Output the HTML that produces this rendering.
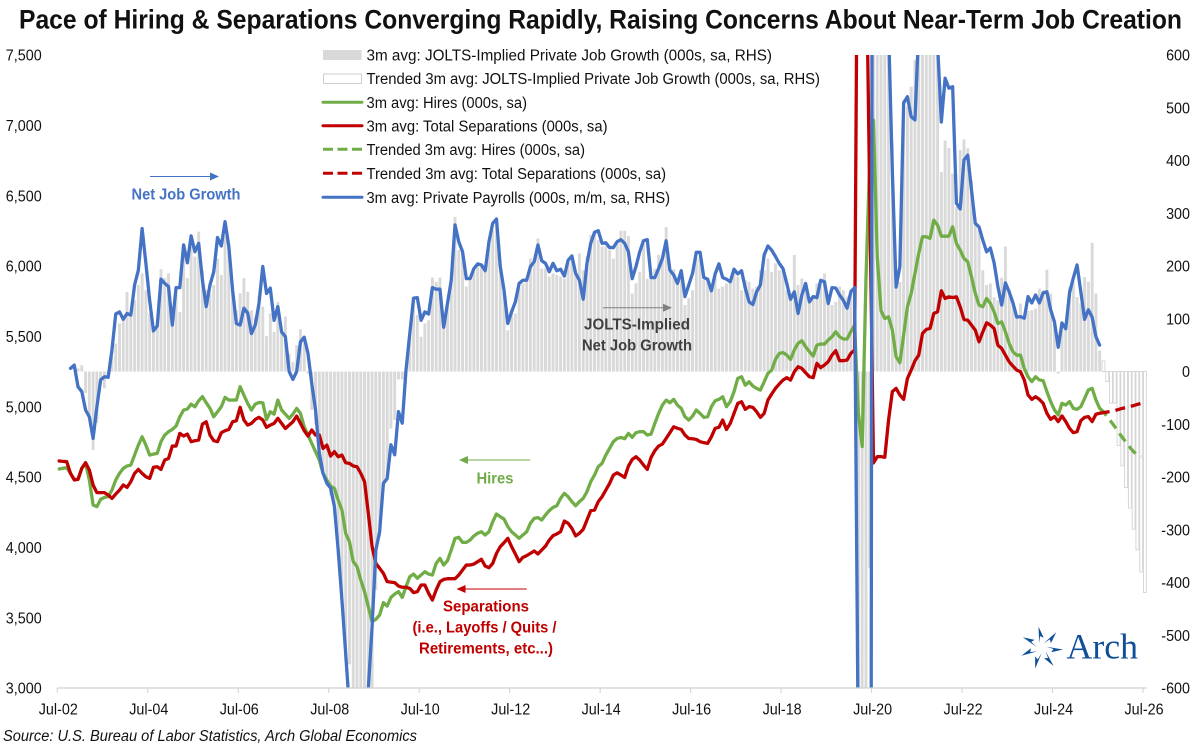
<!DOCTYPE html>
<html lang="en">
<head>
<meta charset="utf-8">
<title>Pace of Hiring and Separations</title>
<style>
html,body{margin:0;padding:0;background:#fff;width:1200px;height:749px;overflow:hidden}
svg{display:block;font-family:"Liberation Sans",Arial,sans-serif}
text{fill:#111}
</style>
</head>
<body>
<svg id="chart" xmlns="http://www.w3.org/2000/svg" width="1200" height="749" viewBox="0 0 1200 749">
<defs><clipPath id="plot-clip"><rect x="50" y="55" width="1100" height="633"/></clipPath></defs>
<rect width="1200" height="749" fill="#fff"/>
<text x="19" y="28.5" font-size="27" font-weight="bold" textLength="1163" lengthAdjust="spacingAndGlyphs" fill="#000">Pace of Hiring &amp; Separations Converging Rapidly, Raising Concerns About Near-Term Job Creation</text>

<g id="bars" clip-path="url(#plot-clip)"></g>
<g id="lines" clip-path="url(#plot-clip)"></g>

<line x1="57.3" y1="688" x2="1146.8" y2="688" stroke="#d2d2d2" stroke-width="1.2"/>
<g id="x-axis"></g>
<g id="y-left"></g>
<g id="y-right"></g>

<g font-size="15.5">
 <g>
  <rect x="323" y="50" width="38.5" height="10" fill="#d9d9d9"/>
  <text x="366.5" y="60.5" textLength="405.5" lengthAdjust="spacingAndGlyphs">3m avg: JOLTS-Implied Private Job Growth (000s, sa, RHS)</text>
 </g>
 <g>
  <rect x="323.5" y="74" width="38" height="9.5" fill="#fff" stroke="#cfcfcf" stroke-width="1"/>
  <text x="366.5" y="84" textLength="453.5" lengthAdjust="spacingAndGlyphs">Trended 3m avg: JOLTS-Implied Private Job Growth (000s, sa, RHS)</text>
 </g>
 <g>
  <line x1="323" y1="102.3" x2="362" y2="102.3" stroke="#70ad47" stroke-width="3" stroke-linecap="round"/>
  <text x="366.5" y="107.8" textLength="160.5" lengthAdjust="spacingAndGlyphs">3m avg: Hires (000s, sa)</text>
 </g>
 <g>
  <line x1="323" y1="125.7" x2="362" y2="125.7" stroke="#c00000" stroke-width="3" stroke-linecap="round"/>
  <text x="366.5" y="131.3" textLength="241" lengthAdjust="spacingAndGlyphs">3m avg: Total Separations (000s, sa)</text>
 </g>
 <g>
  <line x1="323" y1="149.3" x2="362" y2="149.3" stroke="#70ad47" stroke-width="3" stroke-dasharray="10 4.5"/>
  <text x="366.5" y="155" textLength="218.5" lengthAdjust="spacingAndGlyphs">Trended 3m avg: Hires (000s, sa)</text>
 </g>
 <g>
  <line x1="323" y1="173.3" x2="362" y2="173.3" stroke="#c00000" stroke-width="3" stroke-dasharray="10 4.5"/>
  <text x="366.5" y="179" textLength="299.5" lengthAdjust="spacingAndGlyphs">Trended 3m avg: Total Separations (000s, sa)</text>
 </g>
 <g>
  <line x1="323" y1="197.3" x2="362" y2="197.3" stroke="#4472c4" stroke-width="3" stroke-linecap="round"/>
  <text x="366.5" y="203" textLength="303.5" lengthAdjust="spacingAndGlyphs">3m avg: Private Payrolls (000s, m/m, sa, RHS)</text>
 </g>
</g>

<g>
 <line x1="150" y1="176.5" x2="212" y2="176.5" stroke="#4472c4" stroke-width="1"/>
 <polygon points="219,176.5 210,172.5 210,180.5" fill="#4472c4"/>
 <text x="131.5" y="199.5" font-size="15.5" font-weight="bold" textLength="109" lengthAdjust="spacingAndGlyphs" style="fill:#4472c4">Net Job Growth</text>
</g>
<g>
 <line x1="603" y1="307.7" x2="665" y2="307.7" stroke="#7f7f7f" stroke-width="1"/>
 <polygon points="672,307.7 663,303.7 663,311.7" fill="#7f7f7f"/>
 <text x="584" y="329.5" font-size="15.5" font-weight="bold" textLength="106" lengthAdjust="spacingAndGlyphs" style="fill:#404040">JOLTS-Implied</text>
 <text x="582" y="350.5" font-size="15.5" font-weight="bold" textLength="110" lengthAdjust="spacingAndGlyphs" style="fill:#404040">Net Job Growth</text>
</g>
<g>
 <line x1="530" y1="460" x2="466" y2="460" stroke="#70ad47" stroke-width="1"/>
 <polygon points="459,460 468,456 468,464" fill="#70ad47"/>
 <text x="476.5" y="483.5" font-size="15.5" font-weight="bold" textLength="37" lengthAdjust="spacingAndGlyphs" style="fill:#70ad47">Hires</text>
</g>
<g>
 <line x1="526.7" y1="589" x2="463" y2="589" stroke="#c00000" stroke-width="1"/>
 <polygon points="456.5,589 465.5,585 465.5,593" fill="#c00000"/>
 <text x="443" y="611.5" font-size="15.5" font-weight="bold" textLength="86" lengthAdjust="spacingAndGlyphs" style="fill:#c00000">Separations</text>
 <text x="412.5" y="632.5" font-size="15.5" font-weight="bold" textLength="144" lengthAdjust="spacingAndGlyphs" style="fill:#c00000">(i.e., Layoffs / Quits /</text>
 <text x="419" y="653.5" font-size="15.5" font-weight="bold" textLength="134" lengthAdjust="spacingAndGlyphs" style="fill:#c00000">Retirements, etc...)</text>
</g>

<g>
 <g transform="translate(1041.5 648)" fill="#0f4f98">
  <polygon points="0,-21.5 3.6,-10 0.2,-12 -1.6,-5" transform="rotate(-8)"/>
  <polygon points="0,-21.5 3.6,-10 0.2,-12 -1.6,-5" transform="rotate(43)"/>
  <polygon points="0,-21.5 3.6,-10 0.2,-12 -1.6,-5" transform="rotate(94)"/>
  <polygon points="0,-21.5 3.6,-10 0.2,-12 -1.6,-5" transform="rotate(146)"/>
  <polygon points="0,-21.5 3.6,-10 0.2,-12 -1.6,-5" transform="rotate(197)"/>
  <polygon points="0,-21.5 3.6,-10 0.2,-12 -1.6,-5" transform="rotate(249)"/>
  <polygon points="0,-21.5 3.6,-10 0.2,-12 -1.6,-5" transform="rotate(300)"/>
 </g>
 <text x="1066.5" y="658.5" font-size="36" textLength="71.5" lengthAdjust="spacingAndGlyphs" style="fill:#0f4f98;font-family:'Liberation Serif',serif">Arch</text>
</g>

<text x="3" y="741" font-size="15.5" font-style="italic" textLength="414" lengthAdjust="spacingAndGlyphs">Source: U.S. Bureau of Labor Statistics, Arch Global Economics</text>
</svg>

<script>
/* category count and tick labels */
var categoryCount = 289;
var xTickLabels = ['Jul-02','Jul-04','Jul-06','Jul-08','Jul-10','Jul-12','Jul-14','Jul-16','Jul-18','Jul-20','Jul-22','Jul-24','Jul-26'];
var leftTicks = [3000,3500,4000,4500,5000,5500,6000,6500,7000,7500];
var rightTicks = [-600,-500,-400,-300,-200,-100,0,100,200,300,400,500,600];

/* monthly series, starting at Jul-02 */
var hires = [4557,4562,4566,4526,4483,4483,4562,4597,4479,4301,4289,4341,4355,4360,4407,4478,4526,4561,4578,4585,4656,4727,4786,4727,4656,4663,4668,4751,4798,4822,4838,4862,4928,4976,4983,5018,4999,5042,5071,5028,4988,4928,4964,4999,5066,5047,5047,5047,5142,5082,5023,4976,5018,5030,5028,4909,4964,4947,5047,4976,4947,4917,4947,4988,4952,4857,4798,4739,4680,4620,4525,4478,4435,4419,4336,4265,4099,4040,3898,3863,3768,3685,3578,3471,3488,3519,3607,3583,3644,3668,3685,3644,3720,3791,3810,3780,3803,3827,3810,3803,3886,3922,3874,3905,3981,4064,4071,4035,4035,4052,4081,4100,4111,4088,4111,4182,4237,4218,4201,4147,4111,4088,4064,4088,4111,4171,4206,4211,4194,4230,4261,4284,4296,4348,4384,4360,4325,4296,4325,4348,4396,4467,4514,4574,4597,4656,4703,4751,4774,4781,4772,4810,4782,4815,4822,4822,4798,4805,4881,4952,5011,5047,5028,5052,5011,4988,4928,4905,4933,4976,4952,4924,4928,5000,5042,5052,5071,5000,5035,5106,5201,5213,5153,5177,5147,5130,5118,5177,5237,5260,5336,5379,5384,5367,5336,5403,5450,5469,5426,5391,5360,5438,5445,5445,5474,5497,5533,5497,5481,5481,5533,5580,4950,4716,5900,6750,7037,6065,5682,5627,5639,5544,5355,5312,5509,5710,5805,5947,6089,6208,6208,6196,6326,6291,6212,6212,6212,6279,6160,6113,6054,6030,5923,5805,5722,5710,5769,5734,5674,5591,5603,5532,5449,5390,5366,5366,5271,5213,5178,5213,5190,5185,5107,5036,4977,4941,5024,5012,5036,4988,4981,5000,5059,5119,5130,5048,4988];
var separations = [4614,4611,4609,4526,4479,4483,4562,4602,4550,4443,4389,4389,4389,4372,4348,4379,4407,4443,4426,4467,4526,4554,4526,4502,4490,4569,4573,4554,4621,4632,4720,4720,4810,4791,4805,4751,4758,4763,4876,4893,4798,4758,4751,4815,4829,4838,4893,4900,4995,4905,4869,4881,4909,4924,4905,4853,4869,4881,4917,4881,4845,4869,4893,4933,4881,4829,4791,4834,4798,4798,4703,4727,4649,4680,4644,4656,4601,4597,4578,4573,4526,4467,4242,4005,3886,3851,3815,3756,3753,3749,3725,3716,3716,3708,3678,3685,3732,3732,3673,3625,3697,3756,3772,3777,3777,3777,3803,3839,3874,3874,3881,3898,3915,3867,3855,3886,3957,4005,4033,4064,4005,3953,3898,3929,3941,3957,3974,3953,3981,4009,4052,4083,4095,4111,4187,4171,4135,4081,4100,4128,4194,4261,4265,4325,4360,4407,4454,4514,4530,4514,4497,4578,4625,4644,4620,4585,4554,4639,4687,4720,4734,4774,4815,4857,4846,4838,4798,4774,4772,4767,4751,4744,4739,4786,4846,4853,4905,4838,4881,4952,5023,5035,4981,5000,4995,4964,4924,4952,5047,5090,5130,5161,5189,5206,5189,5248,5284,5272,5241,5213,5206,5308,5277,5296,5320,5367,5398,5327,5327,5331,5379,5403,9668,12000,8400,6500,4600,4645,4645,4640,4905,5107,5130,5083,5052,5200,5260,5326,5366,5520,5549,5556,5663,5674,5824,5769,5781,5776,5781,5710,5620,5615,5580,5544,5461,5532,5596,5580,5556,5437,5414,5366,5319,5288,5260,5248,5190,5083,5052,5071,5052,5024,4953,4910,4929,4894,4934,4894,4846,4815,4822,4901,4924,4929,4894,4946,4953];
var payrolls = [null,null,null,6,12,-29,-38,-73,-86,-127,-67,-16,-10,-11,41,109,113,99,110,107,164,192,271,205,135,77,86,175,167,161,88,159,159,240,206,257,227,243,173,123,164,189,254,238,284,237,154,91,88,120,111,72,88,129,199,148,158,97,123,75,66,0,-15,0,56,65,34,-23,-73,-155,-193,-212,-221,-256,-338,-433,-535,-640,-700,-760,-800,-740,-601,-484,-338,-304,-212,-203,-139,-158,-76,-98,3,72,139,140,97,113,109,159,156,156,84,129,173,278,246,227,176,176,195,204,202,191,246,281,289,199,154,91,113,132,167,173,173,199,208,240,210,205,189,205,191,194,181,211,219,186,173,137,205,243,264,267,243,244,235,235,246,250,243,227,176,199,227,248,250,178,178,195,214,248,192,183,167,191,142,164,186,226,226,178,175,153,185,204,178,175,170,194,185,191,158,132,127,151,164,221,238,230,218,205,195,167,137,151,110,145,167,132,142,140,173,170,129,159,158,145,135,120,151,159,-750,-4000,-3000,-3000,3000,1500,1000,800,650,380,160,199,509,521,483,477,650,720,720,720,720,620,473,556,537,540,319,308,401,410,344,281,274,249,227,234,206,161,126,168,151,130,103,104,101,142,130,145,130,149,151,117,94,46,92,81,149,177,202,151,99,117,103,66,50];
var joltsBars = [null,null,null,null,null,6,12,-41,-85,-149,-98,-16,-32,-10,28,53,91,101,151,110,135,164,186,154,110,78,91,194,177,186,123,158,113,218,177,237,218,265,192,154,148,164,214,183,256,237,161,116,148,177,151,116,104,142,123,67,110,75,132,78,104,34,18,50,80,66,-4,-73,-100,-150,-185,-210,-235,-270,-350,-440,-550,-555,-700,-700,-700,-700,-620,-620,-414,-313,-212,-200,-108,-92,-15,-15,0,72,140,107,66,91,97,178,170,178,82,123,170,293,230,224,161,173,189,202,199,189,243,268,287,192,154,78,110,110,157,167,173,214,205,252,195,195,180,186,183,180,176,205,211,186,224,192,218,259,265,249,237,237,230,214,243,267,267,257,148,167,189,243,176,180,195,221,214,274,189,194,164,192,126,139,154,214,218,173,170,154,183,157,161,167,167,189,180,154,173,170,157,161,192,192,214,189,205,192,192,154,148,221,164,176,157,142,142,167,161,186,142,126,132,161,154,142,157,164,-620,-700,-700,-373,800,800,800,800,800,433,160,170,515,502,540,590,640,640,640,640,640,600,378,438,424,375,312,420,440,423,363,280,268,192,164,167,141,135,178,237,154,129,100,129,103,115,116,119,157,154,193,148,91,-4,91,84,160,170,141,129,179,170,244,148,40];

/* trended projections; each begins at its start month */
var trendBarsStart = 277;
var trendBars = [20,-19,-60,-60,-140,-179,-220,-259,-299,-338,-380,-419];
var trendHiresStart = 276;
var trendHires = [4988,4965,4929,4894,4858,4818,4782,4747,4711,4680,4657,4645];
var trendSeparationsStart = 276;
var trendSeparations = [4953,4958,4962,4966,4972,4980,4988,4994,5000,5008,5016,5024,5031];

var SVGNS = 'http://www.w3.org/2000/svg';
var PLOT_TOP = 55, PLOT_BOTTOM = 688;
function xScale(i){ return 57.3 + (i + 0.5) * (1089.5 / categoryCount); }
function xTick(i){ return 57.3 + i * (1089.5 / categoryCount); }
function yLeft(v){ return 688 - (v - 3000) * (633 / 4500); }
function yRight(v){ return 371.5 - v * (633 / 1200); }
function clampY(y){ return Math.max(PLOT_TOP, Math.min(PLOT_BOTTOM, y)); }

/* builds a polyline cut at the plot's top and bottom edges */
function pathFrom(values, start, yFn){
  var pts = [];
  values.forEach(function(v, k){
    if (v !== null) pts.push([xScale(start + k), yFn(v)]);
  });
  var lo = PLOT_TOP - 2, hi = PLOT_BOTTOM + 2, d = '', pen = null;
  function fmt(p){ return p[0].toFixed(2) + ' ' + p[1].toFixed(2); }
  for (var n = 0; n + 1 < pts.length; n++) {
    var a = pts[n], b = pts[n + 1], t0 = 0, t1 = 1, dy = b[1] - a[1];
    if ((a[1] < lo && b[1] < lo) || (a[1] > hi && b[1] > hi)) { pen = null; continue; }
    if (dy !== 0) {
      var ta = (lo - a[1]) / dy, tb = (hi - a[1]) / dy;
      t0 = Math.max(0, Math.min(ta, tb));
      t1 = Math.min(1, Math.max(ta, tb));
    }
    var s = [a[0] + (b[0] - a[0]) * t0, a[1] + dy * t0];
    var e = [a[0] + (b[0] - a[0]) * t1, a[1] + dy * t1];
    if (pen === null || t0 > 0) d += 'M' + fmt(s);
    d += 'L' + fmt(e);
    pen = t1 < 1 ? null : e;
  }
  return d;
}

var barsGroup = document.getElementById('bars');
function drawBars(values, start, fill, stroke){
  values.forEach(function(v, k){
    if (v === null || v === 0) return;
    var r = document.createElementNS(SVGNS, 'rect');
    var y0 = yRight(0), y1 = clampY(yRight(v));
    
    
    r.setAttribute('x', (xScale(start + k) - 1.45).toFixed(2));
    r.setAttribute('width', '2.9');
    r.setAttribute('y', Math.min(y0, y1).toFixed(2));
    r.setAttribute('height', Math.abs(y1 - y0).toFixed(2));
    r.setAttribute('fill', fill);
    if (stroke) { r.setAttribute('stroke', stroke); r.setAttribute('stroke-width', '0.9'); }
    barsGroup.appendChild(r);
  });
}
drawBars(joltsBars, 0, '#d9d9d9', null);
drawBars(trendBars, trendBarsStart, '#ffffff', '#d4d4d4');

var linesGroup = document.getElementById('lines');
function drawLine(name, values, start, yFn, color, dash){
  var p = document.createElementNS(SVGNS, 'path');
  
  
  p.setAttribute('d', pathFrom(values, start, yFn));
  p.setAttribute('fill', 'none');
  p.setAttribute('stroke', color);
  p.setAttribute('stroke-width', '3.3');
  p.setAttribute('stroke-linejoin', 'round');
  p.setAttribute('stroke-linecap', dash ? 'butt' : 'round');
  if (dash) p.setAttribute('stroke-dasharray', dash);
  linesGroup.appendChild(p);
}
drawLine('hires-line', hires, 0, yLeft, '#70ad47');
drawLine('separations-line', separations, 0, yLeft, '#c00000');
drawLine('trended-hires-line', trendHires, trendHiresStart, yLeft, '#70ad47', '10 6');
drawLine('trended-separations-line', trendSeparations, trendSeparationsStart, yLeft, '#c00000', '10 6');
drawLine('payrolls-line', payrolls, 0, yRight, '#4472c4');

function tickText(parent, x, y, anchor, str){
  var t = document.createElementNS(SVGNS, 'text');
  t.setAttribute('x', x);
  t.setAttribute('y', y);
  t.setAttribute('text-anchor', anchor);
  t.setAttribute('font-size', '15.5');
  t.textContent = str;
  parent.appendChild(t);
  var w = t.getComputedTextLength();
  t.setAttribute('textLength', (w * 0.925).toFixed(2));
  t.setAttribute('lengthAdjust', 'spacingAndGlyphs');
  return t;
}

var xAxis = document.getElementById('x-axis');
xTickLabels.forEach(function(label, k){
  var x = xTick(k * 24);
  var tick = document.createElementNS(SVGNS, 'line');
  
  
  tick.setAttribute('x1', x); tick.setAttribute('x2', x);
  tick.setAttribute('y1', 688); tick.setAttribute('y2', 693);
  tick.setAttribute('stroke', '#d2d2d2');
  tick.setAttribute('stroke-width', '1');
  xAxis.appendChild(tick);
  var t = tickText(xAxis, x + 1, 714.5, 'middle', label);
  
  
});

var yLeftGroup = document.getElementById('y-left');
leftTicks.forEach(function(v){
  var label = String(v).replace(/(\d)(\d{3})$/, '$1,$2');
  var t = tickText(yLeftGroup, 41.7, yLeft(v) + 5.7, 'end', label);
  
  
});

var yRightGroup = document.getElementById('y-right');
rightTicks.forEach(function(v){
  var t = tickText(yRightGroup, 1190, yRight(v) + 5.7, 'end', String(v));
  
  
});
</script>
</body>
</html>
